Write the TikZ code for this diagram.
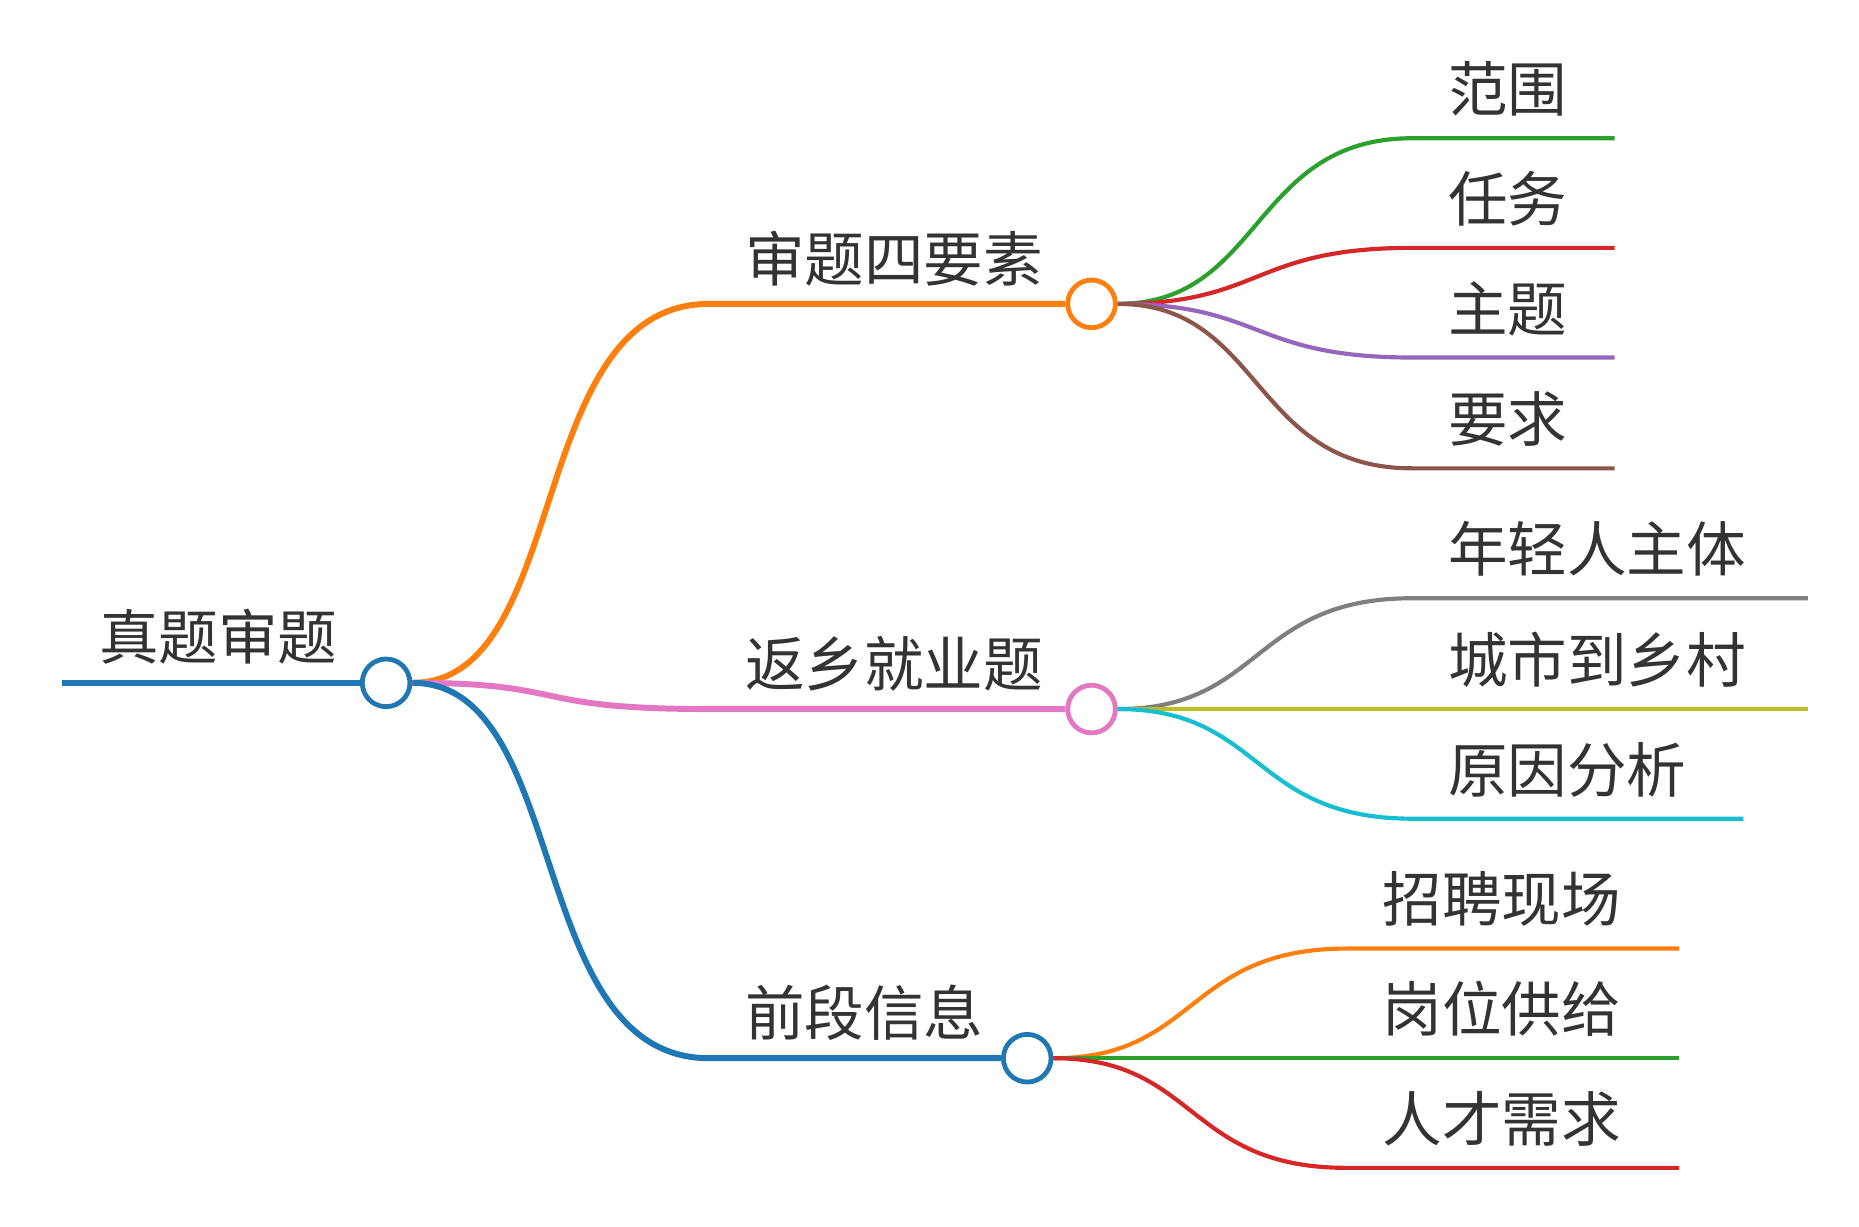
\documentclass[tikz,border=0pt]{standalone}
\usepackage{fontspec}
\newfontfamily\cjk{Noto Sans CJK SC}
\definecolor{tblue}{HTML}{1F77B4}
\definecolor{torange}{HTML}{FF7F0E}
\definecolor{tgreen}{HTML}{2CA02C}
\definecolor{tred}{HTML}{D62728}
\definecolor{tpurple}{HTML}{9467BD}
\definecolor{tbrown}{HTML}{8C564B}
\definecolor{tpink}{HTML}{E377C2}
\definecolor{tgray}{HTML}{7F7F7F}
\definecolor{tolive}{HTML}{BCBD22}
\definecolor{tcyan}{HTML}{17BECF}
\begin{document}
\begin{tikzpicture}[x=1pt,y=-1pt,
  lbl/.style={anchor=south west,inner sep=0pt,font=\cjk\fontsize{50}{50}\selectfont,text=black!80},
  circ/.style={circle,draw=#1,fill=white,line width=4pt,minimum size=40pt,inner sep=0pt},
  br/.style={draw=#1,line width=5pt},
  lf/.style={draw=#1,line width=3.5pt}]
\useasboundingbox (0,0) rectangle (1560,1029);
% root
\coordinate (r0) at (52,573);
\node[circ=tblue] (root) at (324,573) {};
\draw[br=tblue] (r0) -- (root.west);
\node[lbl] at (83,558) {真题审题};
% level 1 coords
\coordinate (a0) at (595,255); \node[circ=torange] (a) at (916,255) {};
\coordinate (b0) at (595,595); \node[circ=tpink] (b) at (916,595) {};
\coordinate (c0) at (595,888); \node[circ=tblue] (c) at (862,888) {};
\draw[br=torange] (root.east) .. controls (480,573) and (440,255) .. (a0) -- (a.west);
\draw[br=tpink] (root.east) .. controls (480,573) and (440,595) .. (b0) -- (b.west);
\draw[br=tblue] (root.east) .. controls (480,573) and (440,888) .. (c0) -- (c.west);
\node[lbl] at (625,240) {审题四要素};
\node[lbl] at (625,580) {返乡就业题};
\node[lbl] at (625,873) {前段信息};
% leaves of a
\foreach \y/\e/\col/\t/\n in {116/1355/tgreen/范围/a1,208/1355/tred/任务/a2,300/1355/tpurple/主题/a3,393/1355/tbrown/要求/a4}{
  \coordinate (\n s) at (1185,\y); \coordinate (\n e) at (\e,\y);
  \draw[lf=\col] (a.east) .. controls (1060,255) and (1050,\y) .. (\n s) -- (\n e);
  \node[lbl] at (1215,\y-18) {\t};
}
\foreach \y/\e/\col/\t/\n in {502/1517/tgray/年轻人主体/b1,595/1517/tolive/城市到乡村/b2,687/1463/tcyan/原因分析/b3}{
  \coordinate (\n s) at (1185,\y); \coordinate (\n e) at (\e,\y);
  \draw[lf=\col] (b.east) .. controls (1060,595) and (1050,\y) .. (\n s) -- (\n e);
  \node[lbl] at (1215,\y-18) {\t};
}
\foreach \y/\e/\col/\t/\n in {796/1409/torange/招聘现场/c1,888/1409/tgreen/岗位供给/c2,980/1409/tred/人才需求/c3}{
  \coordinate (\n s) at (1130,\y); \coordinate (\n e) at (\e,\y);
  \draw[lf=\col] (c.east) .. controls (1005,888) and (995,\y) .. (\n s) -- (\n e);
  \node[lbl] at (1160,\y-18) {\t};
}
\end{tikzpicture}
\end{document}
